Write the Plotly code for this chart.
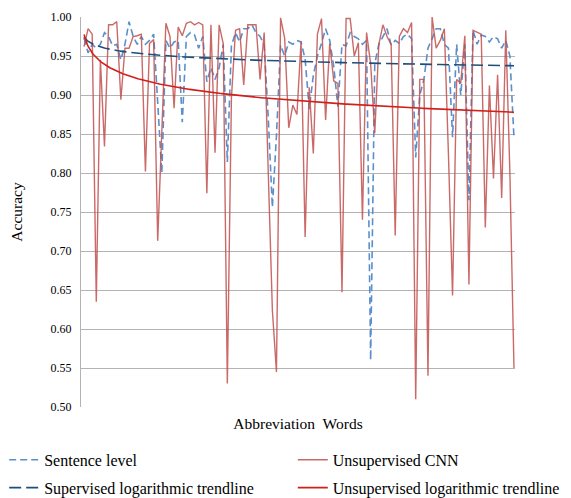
import numpy as np
import plotly.graph_objects as go

words = list(range(1, 107))

sentence_level = [
    0.973, 0.954, 0.965, 0.960, 0.965, 0.980, 0.975, 0.963, 0.965, 0.945,
    0.965, 0.994, 0.975, 0.965, 0.975, 0.965, 0.970, 0.978, 0.890, 0.800,
    0.970, 0.960, 0.968, 0.970, 0.865, 0.975, 0.980, 0.977, 0.960, 0.975,
    0.917, 0.935, 0.920, 0.935, 0.965, 0.814, 0.963, 0.980, 0.968, 0.985,
    0.985, 0.990, 0.980, 0.975, 0.964, 0.870, 0.756, 0.848, 0.964, 0.950,
    0.968, 0.965, 0.970, 0.968, 0.946, 0.882, 0.925, 0.950, 0.966, 0.985,
    0.970, 0.936, 0.885, 0.965, 0.963, 0.980, 0.975, 0.972, 0.965, 0.970,
    0.560, 0.940, 0.965, 0.975, 0.985, 0.964, 0.970, 0.966, 0.975, 0.978,
    0.972, 0.820, 0.900, 0.920, 0.960, 0.972, 0.985, 0.985, 0.965, 0.960,
    0.846, 0.965, 0.900, 0.965, 0.765, 0.983, 0.965, 0.977, 0.975, 0.968,
    0.975, 0.972, 0.960, 0.970, 0.950, 0.845,
]

unsupervised_cnn = [
    0.962, 0.985, 0.978, 0.635, 0.945, 0.834, 0.990, 0.990, 0.994, 0.894,
    0.960, 0.960, 0.975, 0.976, 0.978, 0.802, 0.966, 0.971, 0.713, 0.860,
    0.992, 0.975, 0.883, 0.987, 0.976, 0.992, 0.994, 0.990, 0.993, 0.990,
    0.774, 0.990, 0.826, 0.990, 0.966, 0.530, 0.896, 0.983, 0.985, 0.913,
    0.990, 0.990, 0.990, 0.920, 0.980, 0.800, 0.624, 0.545, 0.999, 0.973,
    0.858, 0.887, 0.875, 0.969, 0.718, 0.910, 0.825, 0.978, 0.998, 0.868,
    0.966, 0.918, 0.915, 0.647, 0.998, 0.998, 0.950, 0.967, 0.740, 0.980,
    0.940, 0.851, 0.965, 0.990, 0.975, 0.965, 0.720, 0.975, 0.985, 0.980,
    0.993, 0.510, 0.920, 0.920, 0.540, 1.000, 0.960, 0.970, 0.985, 0.823,
    0.643, 0.920, 0.915, 0.976, 0.657, 0.983, 0.980, 0.978, 0.730, 0.912,
    0.793, 0.926, 0.768, 0.983, 0.800, 0.550,
]

y_ticks = [0.50, 0.55, 0.60, 0.65, 0.70, 0.75, 0.80, 0.85, 0.90, 0.95, 1.00]

x = np.array(words, dtype=float)
lx = np.log(x)
a_s, b_s = np.polyfit(lx, np.array(sentence_level), 1)
a_u, b_u = np.polyfit(lx, np.array(unsupervised_cnn), 1)
xt = np.linspace(1, words[-1], 400)
trend_s = a_s * np.log(xt) + b_s
trend_u = a_u * np.log(xt) + b_u

font = "Liberation Serif, Times New Roman, serif"

fig = go.Figure()
fig.add_trace(go.Scatter(x=words, y=sentence_level, mode="lines", name="Sentence level",
                         legend="legend", legendgroup="a",
                         line=dict(color="#5B8FCB", width=1.6, dash="7px,4px")))
fig.add_trace(go.Scatter(x=words, y=unsupervised_cnn, mode="lines", name="Unsupervised CNN",
                         legend="legend2", legendgroup="b",
                         line=dict(color="rgba(192,80,77,0.85)", width=1.4)))
fig.add_trace(go.Scatter(x=xt, y=trend_s, mode="lines", name="Supervised logarithmic trendline",
                         legend="legend", legendgroup="c",
                         line=dict(color="#1F4E79", width=1.6, dash="12px,5px")))
fig.add_trace(go.Scatter(x=xt, y=trend_u, mode="lines", name="Unsupervised logarithmic trendline",
                         legend="legend2", legendgroup="d",
                         line=dict(color="#D0201A", width=1.6)))

leg_common = dict(orientation="v", yanchor="top", y=-0.092,
                  font=dict(family=font, size=16, color="#000000"),
                  bgcolor="rgba(0,0,0,0)", tracegroupgap=4, xanchor="left")

fig.update_layout(
    width=563, height=490,
    margin=dict(l=73, r=56, t=9, b=91, autoexpand=False),
    paper_bgcolor="white", plot_bgcolor="white",
    font=dict(family=font, color="#000000"),
    showlegend=True,
    legend=dict(x=-0.177, **leg_common),
    legend2=dict(x=0.488, **leg_common),
    xaxis=dict(range=[0.267, 106.25], showticklabels=False, showgrid=False, zeroline=False,
               ticks="", showline=False,
               title=dict(text="Abbreviation  Words", font=dict(family=font, size=15.5), standoff=11)),
    yaxis=dict(range=[0.50, 1.00], tickvals=y_ticks, tickformat=".2f",
               showgrid=True, gridcolor="#B3B3B3", gridwidth=1, zeroline=False,
               showline=True, linecolor="#B3B3B3", linewidth=1, ticks="",
               ticklabelstandoff=6,
               tickfont=dict(family=font, size=12),
               title=dict(text="Accuracy", font=dict(family=font, size=15.5), standoff=26)),
)
fig.write_html("out.html")
